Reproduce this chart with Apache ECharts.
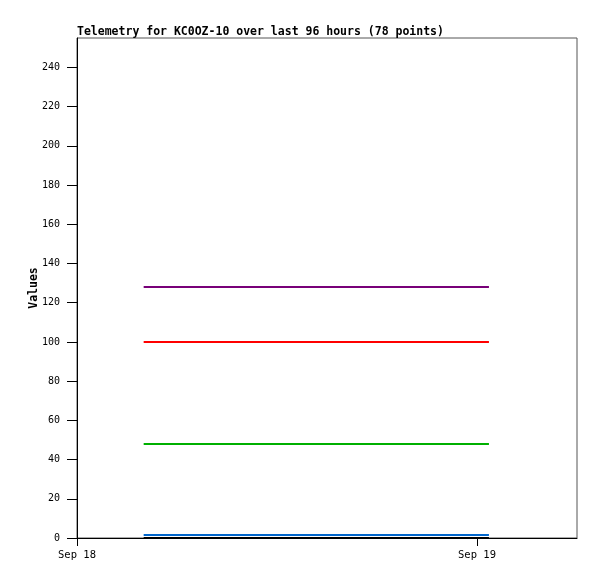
<!DOCTYPE html>
<html>
<head>
<meta charset="utf-8">
<script src="https://cdn.jsdelivr.net/npm/echarts@6/dist/echarts.min.js"></script>
<style>html,body{margin:0;padding:0;background:#fff}#c{width:597px;height:579px}</style>
</head>
<body>
<div id="c"></div>
<script>
const DAY = 86400000;
const T0 = Date.UTC(2023, 8, 18);
// sample times (first and last telemetry point)
const times = [Date.UTC(2023, 8, 18, 4, 0), Date.UTC(2023, 8, 19, 0, 43)];
const seriesNames = ['purple', 'red', 'green', 'blue', 'black'];
const purpleVals = [128, 128];
const redVals = [100, 100];
const greenVals = [48, 48];
const blueVals = [1.5, 1.5];
const blackVals = [0, 0];
const colors = ['#780078', '#ff0000', '#00b000', '#0066cc', '#000000'];
const yTicks = [0, 20, 40, 60, 80, 100, 120, 140, 160, 180, 200, 220, 240];
const monthNames = ['Jan','Feb','Mar','Apr','May','Jun','Jul','Aug','Sep','Oct','Nov','Dec'];

const allVals = [purpleVals, redVals, greenVals, blueVals, blackVals];
const FONT = '"DejaVu Sans Mono", monospace';

const chart = echarts.init(document.getElementById('c'), null, {renderer: 'canvas'});
chart.setOption({
  animation: false,
  backgroundColor: '#fff',
  title: {
    text: 'Telemetry for KC0OZ-10 over last 96 hours (78 points)',
    left: 77, top: 26, padding: 0,
    textStyle: {fontFamily: FONT, fontSize: 11.5, fontWeight: 'bold', color: '#000'}
  },
  grid: {left: 77, right: 20, top: 38, bottom: 41, show: true, borderColor: '#555', borderWidth: 1, backgroundColor: 'transparent'},
  xAxis: {
    type: 'value', min: T0, max: T0 + 1.25 * DAY, interval: DAY,
    axisLine: {lineStyle: {color: '#000', width: 1}},
    axisTick: {length: 8, lineStyle: {color: '#000'}},
    splitLine: {show: false},
    axisLabel: {
      fontFamily: FONT, fontSize: 10.5, color: '#000', margin: 12, showMaxLabel: false,
      formatter: v => { const d = new Date(v); return monthNames[d.getUTCMonth()] + ' ' + d.getUTCDate(); }
    }
  },
  yAxis: {
    type: 'value', min: 0, max: 255, interval: 20,
    name: 'Values', nameLocation: 'middle', nameGap: 37, nameMoveOverlap: false,
    nameTextStyle: {fontFamily: FONT, fontSize: 11.5, fontWeight: 'bold', color: '#000'},
    axisLine: {show: true, lineStyle: {color: '#000', width: 1}},
    axisTick: {length: 10, lineStyle: {color: '#000'}},
    splitLine: {show: false},
    axisLabel: {
      fontFamily: FONT, fontSize: 10, color: '#000', margin: 17, showMaxLabel: false,
      formatter: v => yTicks.indexOf(v) >= 0 ? String(v) : ''
    }
  },
  series: allVals.map((vals, i) => ({
    name: seriesNames[i], type: 'line', showSymbol: false, symbol: 'none',
    data: times.map((t, j) => [t, vals[j]]),
    lineStyle: {color: colors[i], width: 2},
    itemStyle: {color: colors[i]},
    z: 3 + i
  }))
});
</script>
</body>
</html>
